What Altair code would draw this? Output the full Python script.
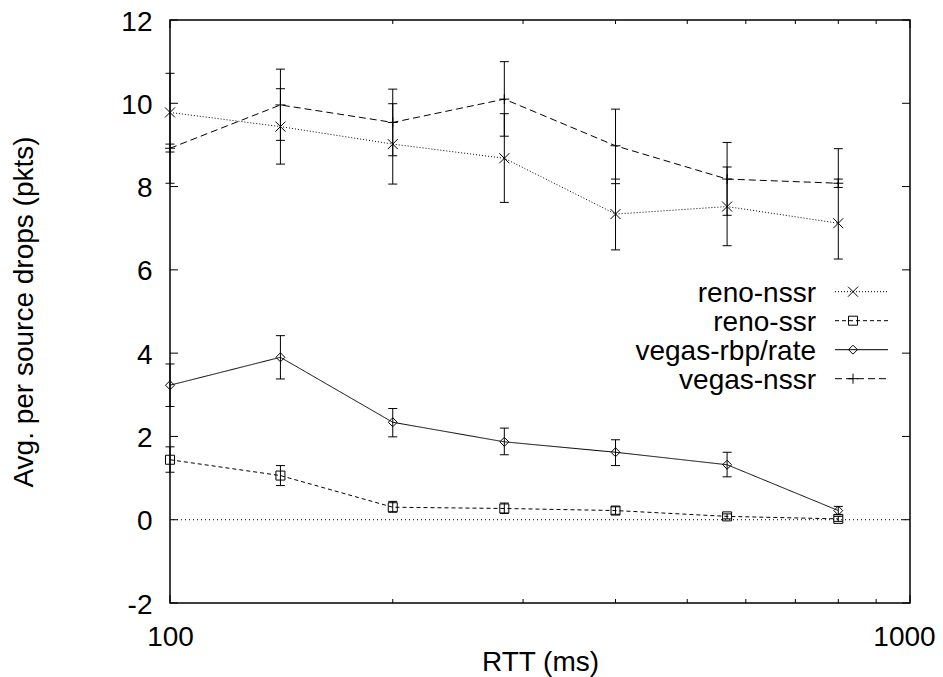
import altair as alt
import pandas as pd

# RTT values (ms), roughly sqrt(2) steps
rtt = [100, 141, 200, 283, 400, 566, 800]
series = ["reno-nssr", "reno-ssr", "vegas-rbp/rate", "vegas-nssr"]

reno_nssr = [9.78, 9.44, 9.02, 8.68, 7.34, 7.52, 7.12]
reno_nssr_lo = [8.08, 8.54, 8.06, 7.62, 6.48, 6.58, 6.26]
reno_nssr_hi = [10.72, 10.82, 10.34, 11.0, 9.86, 9.06, 8.91]

reno_ssr = [1.44, 1.06, 0.30, 0.27, 0.22, 0.08, 0.02]
reno_ssr_lo = [1.14, 0.82, 0.18, 0.15, 0.13, 0.02, -0.04]
reno_ssr_hi = [1.75, 1.30, 0.44, 0.40, 0.31, 0.14, 0.08]

vegas_rbp = [3.23, 3.90, 2.34, 1.87, 1.62, 1.32, 0.22]
vegas_rbp_lo = [2.72, 3.38, 1.99, 1.56, 1.30, 1.03, 0.12]
vegas_rbp_hi = [3.74, 4.42, 2.67, 2.20, 1.92, 1.62, 0.32]

vegas_nssr = [8.92, 9.96, 9.54, 10.10, 8.98, 8.18, 8.08]
vegas_nssr_lo = [8.83, 9.11, 8.74, 9.21, 8.07, 7.31, 7.98]
vegas_nssr_hi = [9.02, 10.35, 9.99, 9.75, 8.18, 8.47, 8.18]

x_major = [100, 1000]
x_minor = [200, 300, 400, 500, 600, 700, 800, 900]
y_ticks = [-2, 0, 2, 4, 6, 8, 10, 12]

values = {
    "reno-nssr": (reno_nssr, reno_nssr_lo, reno_nssr_hi),
    "reno-ssr": (reno_ssr, reno_ssr_lo, reno_ssr_hi),
    "vegas-rbp/rate": (vegas_rbp, vegas_rbp_lo, vegas_rbp_hi),
    "vegas-nssr": (vegas_nssr, vegas_nssr_lo, vegas_nssr_hi),
}

# dash, marker shape, marker size
styles = {
    "reno-nssr": ([1, 2], "M-1,-1L1,1M-1,1L1,-1", 100),
    "reno-ssr": ([4, 3], "square", 81),
    "vegas-rbp/rate": ([1, 0], "diamond", 81),
    "vegas-nssr": ([7, 4], "M-1,0L1,0M0,-1L0,1", 100),
}

W, H = 740, 583
FONT = "Liberation Sans"
FS = 28

x_scale = alt.Scale(type="log", domain=[100, 1000])
y_scale = alt.Scale(domain=[-2, 12], nice=False, zero=False)

x_axis = alt.Axis(
    values=x_major, title="RTT (ms)", ticks=False, tickSize=0, domain=False,
    grid=False, labelFont=FONT, labelFontSize=FS, labelPadding=20,
    labelFlush=False, labelOverlap=False, labelExpr="'' + datum.value",
    # nudge the last label so it stays inside the page
    labelOffset={"condition": {"test": "datum.value == 1000", "value": -6}, "value": 0},
    labelColor="black", titleFont=FONT, titleFontSize=FS,
    titleFontWeight="normal", titleColor="black", titleX=W / 2, titleY=67,
    titleBaseline="alphabetic", titleAlign="center",
)
y_axis = alt.Axis(
    values=y_ticks, title="Avg. per source drops (pkts)", ticks=False,
    tickSize=0, domain=False, grid=False, labelFont=FONT, labelFontSize=FS,
    labelPadding=18, labelExpr="'' + datum.value", labelColor="black",
    labelBaseline="alphabetic", labelOffset=10,
    titleFont=FONT, titleFontSize=FS, titleFontWeight="normal",
    titleColor="black", titleAngle=270, titleX=-138, titleY=H / 2,
    titleBaseline="alphabetic", titleAlign="center",
)


def X(field):
    return alt.X(field, type="quantitative", scale=x_scale, axis=x_axis)


def Y(field):
    return alt.Y(field, type="quantitative", scale=y_scale, axis=y_axis)


layers = []

# dotted zero line
zero = alt.Chart(pd.DataFrame({"drops": [0]})).mark_rule(
    color="black", strokeWidth=1, strokeDash=[1, 3]
).encode(y=Y("drops"))
layers.append(zero)

for name in series:
    mean, lo, hi = values[name]
    dash, shape, size = styles[name]
    df = pd.DataFrame({"rtt": rtt, "drops": mean, "lo": lo, "hi": hi})
    base = alt.Chart(df)
    layers.append(base.mark_rule(color="black", strokeWidth=1).encode(
        x=X("rtt"), y=Y("lo"), y2=alt.Y2("hi")))
    layers.append(base.mark_tick(orient="horizontal", size=9, thickness=1,
                                 color="black", opacity=1).encode(x=X("rtt"), y=Y("lo")))
    layers.append(base.mark_tick(orient="horizontal", size=9, thickness=1,
                                 color="black", opacity=1).encode(x=X("rtt"), y=Y("hi")))
    layers.append(base.mark_line(color="black", strokeWidth=1, strokeDash=dash).encode(
        x=X("rtt"), y=Y("drops")))
    layers.append(base.mark_point(shape=shape, size=size, filled=False, color="black",
                                  strokeWidth=1, opacity=1).encode(x=X("rtt"), y=Y("drops")))

# inward tick marks (gnuplot style, mirrored on all sides)
xmaj = alt.Chart(pd.DataFrame({"rtt": x_major}))
xmin = alt.Chart(pd.DataFrame({"rtt": x_minor}))
yt = alt.Chart(pd.DataFrame({"drops": y_ticks}))
tick_style = dict(color="black", strokeWidth=1)
layers += [
    xmaj.mark_rule(**tick_style).encode(x=X("rtt"), y=alt.value(H), y2=alt.value(H - 8)),
    xmaj.mark_rule(**tick_style).encode(x=X("rtt"), y=alt.value(0), y2=alt.value(8)),
    xmin.mark_rule(**tick_style).encode(x=X("rtt"), y=alt.value(H), y2=alt.value(H - 4)),
    xmin.mark_rule(**tick_style).encode(x=X("rtt"), y=alt.value(0), y2=alt.value(4)),
    yt.mark_rule(**tick_style).encode(y=Y("drops"), x=alt.value(0), x2=alt.value(8)),
    yt.mark_rule(**tick_style).encode(y=Y("drops"), x=alt.value(W), x2=alt.value(W - 8)),
]

# gnuplot-like key: right aligned text, then line sample with marker
for i, name in enumerate(series):
    dash, shape, size = styles[name]
    base_y = 281.7 + i * 29
    one = alt.Chart(pd.DataFrame({"series": [name]}))
    layers.append(one.mark_text(align="right", baseline="alphabetic", font=FONT,
                                fontSize=FS, color="black").encode(
        x=alt.value(646), y=alt.value(base_y), text="series:N"))
    layers.append(one.mark_rule(color="black", strokeWidth=1, strokeDash=dash).encode(
        x=alt.value(665), x2=alt.value(718), y=alt.value(base_y - 10)))
    layers.append(one.mark_point(shape=shape, size=size, filled=False, color="black",
                                 strokeWidth=1, opacity=1).encode(
        x=alt.value(683), y=alt.value(base_y - 10)))

chart = alt.layer(*layers).properties(
    width=W, height=H, autosize="none",
    padding={"left": 162, "top": 12, "right": 25, "bottom": 74},
    background="white",
).configure_view(stroke="black", strokeWidth=1.5)

chart.save("out.html", embed_options={"renderer": "svg", "actions": False})
